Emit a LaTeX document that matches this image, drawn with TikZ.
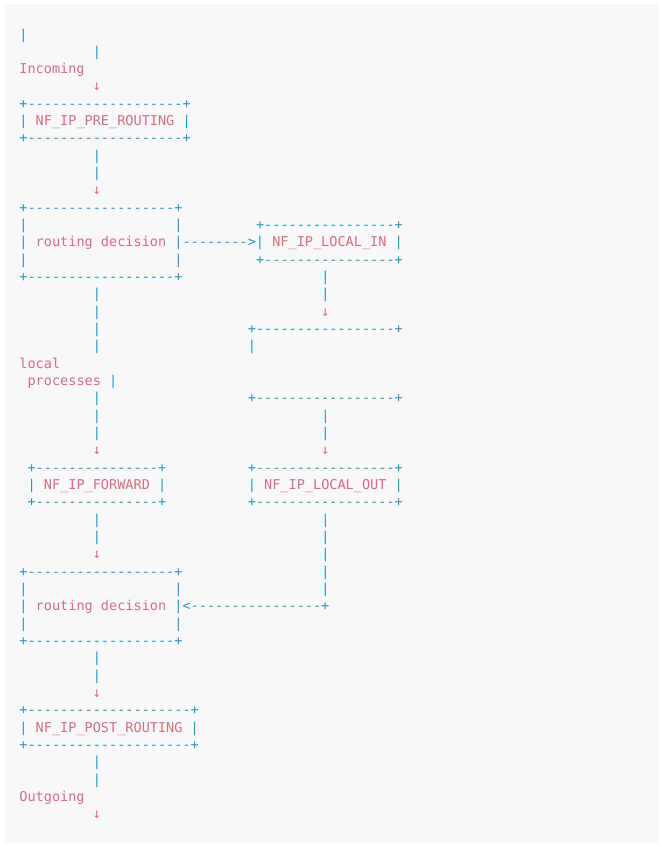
\documentclass[tikz,border=0pt]{standalone}
\usepackage{fontspec}
\setmonofont{DejaVu Sans Mono}
\definecolor{cb}{RGB}{40,150,192}
\definecolor{cp}{RGB}{214,110,126}
\definecolor{panel}{RGB}{248,248,250}
\newlength\cwd
\setlength\cwd{8.16pt}
\newcommand\bl[1]{\textcolor{cb}{#1}}
\newcommand\pk[1]{\textcolor{cp}{#1}}
\newcommand\gap[1]{\hspace*{#1\cwd}}
\newcommand\dn{\textcolor{cp}{\makebox[\cwd]{\fontsize{14pt}{14pt}\selectfont ↓}}}
\tikzset{ln/.style={anchor=base west,inner sep=0pt,outer sep=0pt,font=\ttfamily\fontsize{13.55pt}{16pt}\selectfont}}
\begin{document}
\begin{tikzpicture}[x=1pt,y=-1pt]
\useasboundingbox[fill=white] (0,0) rectangle (662,847);
\fill[panel] (5,4) rectangle (658,843);
\node[ln] (l0) at (19.4,{39+17.33*0}) {\bl{|}};
\node[ln] (l1) at (19.4,{39+17.33*1}) {\gap{9}\bl{|}};
\node[ln] (l2) at (19.4,{39+17.33*2}) {\pk{Incoming}};
\node[ln] (l3) at (19.4,{39+17.33*3}) {\gap{9}\dn};
\node[ln] (l4) at (19.4,{39+17.33*4}) {\bl{+-------------------+}};
\node[ln] (l5) at (19.4,{39+17.33*5}) {\bl{|}\gap{1}\pk{NF\_IP\_PRE\_ROUTING}\gap{1}\bl{|}};
\node[ln] (l6) at (19.4,{39+17.33*6}) {\bl{+-------------------+}};
\node[ln] (l7) at (19.4,{39+17.33*7}) {\gap{9}\bl{|}};
\node[ln] (l8) at (19.4,{39+17.33*8}) {\gap{9}\bl{|}};
\node[ln] (l9) at (19.4,{39+17.33*9}) {\gap{9}\dn};
\node[ln] (l10) at (19.4,{39+17.33*10}) {\bl{+------------------+}};
\node[ln] (l11) at (19.4,{39+17.33*11}) {\bl{|}\gap{18}\bl{|}\gap{9}\bl{+----------------+}};
\node[ln] (l12) at (19.4,{39+17.33*12}) {\bl{|}\gap{1}\pk{routing decision}\gap{1}\bl{|-------->|}\gap{1}\pk{NF\_IP\_LOCAL\_IN}\gap{1}\bl{|}};
\node[ln] (l13) at (19.4,{39+17.33*13}) {\bl{|}\gap{18}\bl{|}\gap{9}\bl{+----------------+}};
\node[ln] (l14) at (19.4,{39+17.33*14}) {\bl{+------------------+}\gap{17}\bl{|}};
\node[ln] (l15) at (19.4,{39+17.33*15}) {\gap{9}\bl{|}\gap{27}\bl{|}};
\node[ln] (l16) at (19.4,{39+17.33*16}) {\gap{9}\bl{|}\gap{27}\dn};
\node[ln] (l17) at (19.4,{39+17.33*17}) {\gap{9}\bl{|}\gap{18}\bl{+-----------------+}};
\node[ln] (l18) at (19.4,{39+17.33*18}) {\gap{9}\bl{|}\gap{18}\bl{|}};
\node[ln] (l19) at (19.4,{39+17.33*19}) {\pk{local}};
\node[ln] (l20) at (19.4,{39+17.33*20}) {\gap{1}\pk{processes}\gap{1}\bl{|}};
\node[ln] (l21) at (19.4,{39+17.33*21}) {\gap{9}\bl{|}\gap{18}\bl{+-----------------+}};
\node[ln] (l22) at (19.4,{39+17.33*22}) {\gap{9}\bl{|}\gap{27}\bl{|}};
\node[ln] (l23) at (19.4,{39+17.33*23}) {\gap{9}\bl{|}\gap{27}\bl{|}};
\node[ln] (l24) at (19.4,{39+17.33*24}) {\gap{9}\dn\gap{27}\dn};
\node[ln] (l25) at (19.4,{39+17.33*25}) {\gap{1}\bl{+---------------+}\gap{10}\bl{+-----------------+}};
\node[ln] (l26) at (19.4,{39+17.33*26}) {\gap{1}\bl{|}\gap{1}\pk{NF\_IP\_FORWARD}\gap{1}\bl{|}\gap{10}\bl{|}\gap{1}\pk{NF\_IP\_LOCAL\_OUT}\gap{1}\bl{|}};
\node[ln] (l27) at (19.4,{39+17.33*27}) {\gap{1}\bl{+---------------+}\gap{10}\bl{+-----------------+}};
\node[ln] (l28) at (19.4,{39+17.33*28}) {\gap{9}\bl{|}\gap{27}\bl{|}};
\node[ln] (l29) at (19.4,{39+17.33*29}) {\gap{9}\bl{|}\gap{27}\bl{|}};
\node[ln] (l30) at (19.4,{39+17.33*30}) {\gap{9}\dn\gap{27}\bl{|}};
\node[ln] (l31) at (19.4,{39+17.33*31}) {\bl{+------------------+}\gap{17}\bl{|}};
\node[ln] (l32) at (19.4,{39+17.33*32}) {\bl{|}\gap{18}\bl{|}\gap{17}\bl{|}};
\node[ln] (l33) at (19.4,{39+17.33*33}) {\bl{|}\gap{1}\pk{routing decision}\gap{1}\bl{|<----------------+}};
\node[ln] (l34) at (19.4,{39+17.33*34}) {\bl{|}\gap{18}\bl{|}};
\node[ln] (l35) at (19.4,{39+17.33*35}) {\bl{+------------------+}};
\node[ln] (l36) at (19.4,{39+17.33*36}) {\gap{9}\bl{|}};
\node[ln] (l37) at (19.4,{39+17.33*37}) {\gap{9}\bl{|}};
\node[ln] (l38) at (19.4,{39+17.33*38}) {\gap{9}\dn};
\node[ln] (l39) at (19.4,{39+17.33*39}) {\bl{+--------------------+}};
\node[ln] (l40) at (19.4,{39+17.33*40}) {\bl{|}\gap{1}\pk{NF\_IP\_POST\_ROUTING}\gap{1}\bl{|}};
\node[ln] (l41) at (19.4,{39+17.33*41}) {\bl{+--------------------+}};
\node[ln] (l42) at (19.4,{39+17.33*42}) {\gap{9}\bl{|}};
\node[ln] (l43) at (19.4,{39+17.33*43}) {\gap{9}\bl{|}};
\node[ln] (l44) at (19.4,{39+17.33*44}) {\pk{Outgoing}};
\node[ln] (l45) at (19.4,{39+17.33*45}) {\gap{9}\dn};
\end{tikzpicture}
\end{document}
